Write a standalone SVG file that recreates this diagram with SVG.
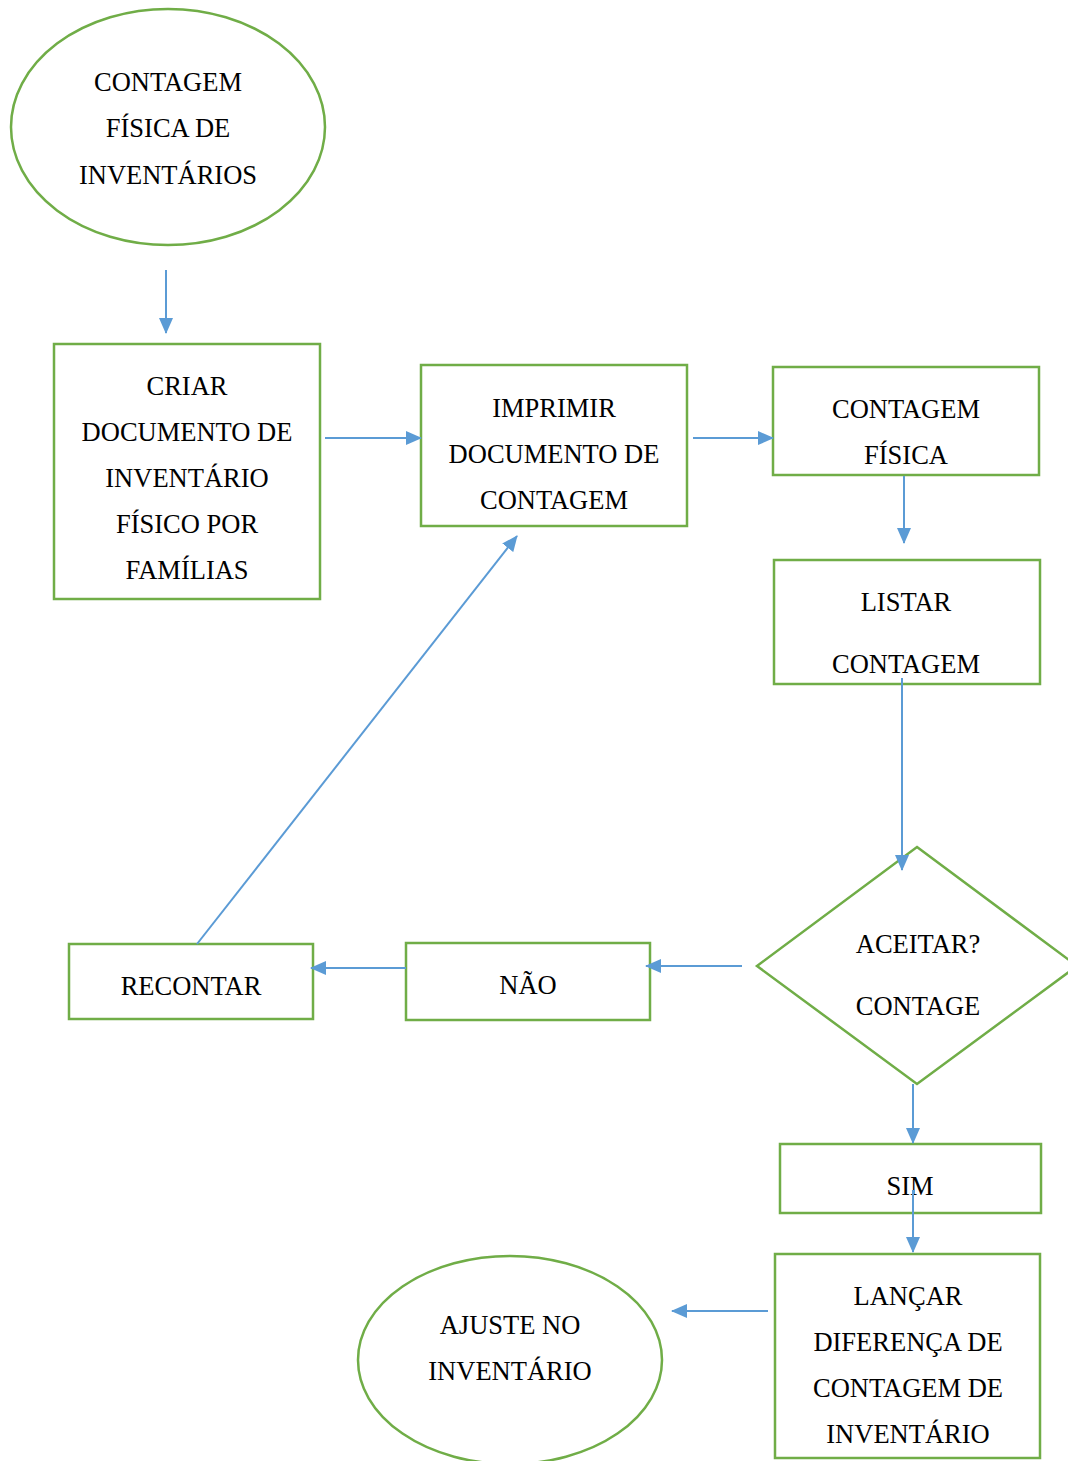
<svg xmlns="http://www.w3.org/2000/svg" width="1068" height="1461" viewBox="0 0 1068 1461">
<style>
.n{fill:#fff;stroke:#70AD47;stroke-width:2.5}
.t{font-family:"Liberation Serif","Times New Roman",serif;font-size:26.5px;fill:#000;text-anchor:middle}
.c{stroke:#5B9BD5;stroke-width:2;fill:none;marker-end:url(#ah)}
</style>
<defs>
<marker id="ah" markerUnits="userSpaceOnUse" markerWidth="16" markerHeight="14" refX="15" refY="7" orient="auto">
<path d="M0,0 L16,7 L0,14 Z" fill="#5B9BD5"/>
</marker>
</defs>
<rect width="1068" height="1461" fill="#fff"/>
<g id="start">
<ellipse class="n" cx="168" cy="127" rx="157" ry="118"/>
<text class="t" x="168" y="91">CONTAGEM</text>
<text class="t" x="168" y="137">FÍSICA DE</text>
<text class="t" x="168" y="184">INVENTÁRIOS</text>
</g>
<g id="criar">
<rect class="n" x="54" y="344" width="266" height="255"/>
<text class="t" x="187" y="395">CRIAR</text>
<text class="t" x="187" y="441">DOCUMENTO DE</text>
<text class="t" x="187" y="487">INVENTÁRIO</text>
<text class="t" x="187" y="533">FÍSICO POR</text>
<text class="t" x="187" y="579">FAMÍLIAS</text>
</g>
<g id="imprimir">
<rect class="n" x="421" y="365" width="266" height="161"/>
<text class="t" x="554" y="417">IMPRIMIR</text>
<text class="t" x="554" y="463">DOCUMENTO DE</text>
<text class="t" x="554" y="509">CONTAGEM</text>
</g>
<g id="contagem">
<rect class="n" x="773" y="367" width="266" height="108"/>
<text class="t" x="906" y="418">CONTAGEM</text>
<text class="t" x="906" y="464">FÍSICA</text>
</g>
<g id="listar">
<rect class="n" x="774" y="560" width="266" height="124"/>
<text class="t" x="906" y="611">LISTAR</text>
<text class="t" x="906" y="673">CONTAGEM</text>
</g>
<g id="aceitar">
<polygon class="n" points="917,847 1077,966 917,1084 757,966"/>
<text class="t" x="918" y="953">ACEITAR?</text>
<text class="t" x="918" y="1015">CONTAGE</text>
</g>
<g id="nao">
<rect class="n" x="406" y="943" width="244" height="77"/>
<text class="t" x="528" y="994">NÃO</text>
</g>
<g id="recontar">
<rect class="n" x="69" y="944" width="244" height="75"/>
<text class="t" x="191" y="995">RECONTAR</text>
</g>
<g id="sim">
<rect class="n" x="780" y="1144" width="261" height="69"/>
<text class="t" x="910" y="1195">SIM</text>
</g>
<g id="lancar">
<rect class="n" x="775" y="1254" width="265" height="204"/>
<text class="t" x="908" y="1305">LANÇAR</text>
<text class="t" x="908" y="1351">DIFERENÇA DE</text>
<text class="t" x="908" y="1397">CONTAGEM DE</text>
<text class="t" x="908" y="1443">INVENTÁRIO</text>
</g>
<g id="ajuste">
<ellipse class="n" cx="510" cy="1360" rx="152" ry="104"/>
<text class="t" x="510" y="1334">AJUSTE NO</text>
<text class="t" x="510" y="1380">INVENTÁRIO</text>
</g>
<g id="connectors">
<line class="c" x1="166" y1="270" x2="166" y2="333"/>
<line class="c" x1="325" y1="438" x2="421" y2="438"/>
<line class="c" x1="693" y1="438" x2="773" y2="438"/>
<line class="c" x1="904" y1="476" x2="904" y2="543"/>
<line class="c" x1="902" y1="678" x2="902" y2="870"/>
<line class="c" x1="742" y1="966" x2="646" y2="966"/>
<line class="c" x1="406" y1="968" x2="311" y2="968"/>
<line class="c" x1="197" y1="944" x2="517" y2="536"/>
<line class="c" x1="913" y1="1084" x2="913" y2="1143"/>
<line class="c" x1="913" y1="1190" x2="913" y2="1252"/>
<line class="c" x1="768" y1="1311" x2="672" y2="1311"/>
</g>
</svg>
